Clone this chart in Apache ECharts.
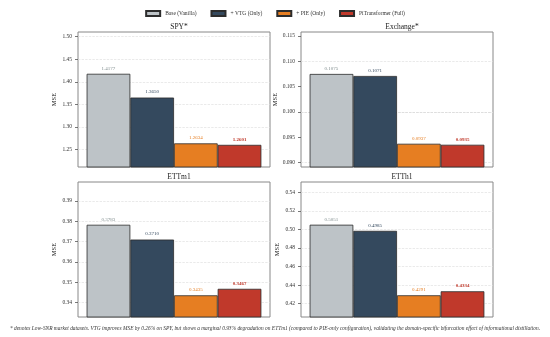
<!DOCTYPE html>
<html>
<head>
<meta charset="utf-8">
<script src="https://cdn.jsdelivr.net/npm/echarts@6/dist/echarts.min.js"></script>
<style>html,body{margin:0;padding:0;background:#fff}#c{width:550px;height:337px}</style>
</head>
<body>
<div id="c"></div>
<script>
// ---- data ----
var panels = ['SPY*', 'Exchange*', 'ETTm1', 'ETTh1'];
var seriesNames = ['Base (Vanilla)', '+ VTG (Only)', '+ PIE (Only)', 'PiTransformer (Full)'];
var baseVals = [1.4177, 0.1075, 0.3783, 0.5051];
var vtgVals  = [1.3650, 0.1071, 0.3710, 0.4985];
var pieVals  = [1.2634, 0.0937, 0.3435, 0.4291];
var fullVals = [1.2601, 0.0935, 0.3467, 0.4334];
var ticksSPY = [1.25, 1.30, 1.35, 1.40, 1.45, 1.50];
var ticksExchange = [0.090, 0.095, 0.100, 0.105, 0.110, 0.115];
var ticksETTm1 = [0.34, 0.35, 0.36, 0.37, 0.38, 0.39];
var ticksETTh1 = [0.42, 0.44, 0.46, 0.48, 0.50, 0.52, 0.54];
var yMin = [1.211, 0.0891, 0.3328, 0.4057];
var yMax = [1.5104, 0.1158, 0.3994, 0.5511];
var tickDecimals = [2, 3, 2, 2];
var footnote = '* denotes Low-SNR market datasets. VTG improves MSE by 0.26% on SPY, but shows a marginal 0.93% degradation on ETTm1 (compared to PIE-only configuration), validating the domain-specific bifurcation effect of informational distillation.';

// ---- styles ----
var allTicks = [ticksSPY, ticksExchange, ticksETTm1, ticksETTh1];
var allVals = [baseVals, vtgVals, pieVals, fullVals];
var colors = ['#bdc3c7', '#34495e', '#e67e22', '#c0392b'];
var labelColors = ['#7f8c8d', '#34495e', '#e67e22', '#c0392b'];
var FONT = '"Liberation Serif", "DejaVu Serif", serif';
var grids = [
  {left: 78, top: 32, width: 192, height: 135},
  {left: 301, top: 32, width: 192, height: 135},
  {left: 78, top: 182, width: 192, height: 135},
  {left: 301, top: 182, width: 192, height: 135}
];

var option = {
  backgroundColor: '#fff',
  animation: false,
  textStyle: {fontFamily: FONT},
  legend: {
    data: seriesNames,
    top: 5, left: 'center', icon: 'rect',
    itemWidth: 14, itemHeight: 5, itemGap: 14,
    textStyle: {fontFamily: FONT, fontSize: 5.5, color: '#333'}
  },
  title: [],
  grid: [],
  xAxis: [],
  yAxis: [],
  series: [],
  graphic: [{
    type: 'text', left: 'center', top: 326,
    style: {text: footnote, font: 'italic 5.4px "Liberation Serif"', fill: '#333'}
  }]
};

grids.forEach(function (g, i) {
  option.grid.push({left: g.left, top: g.top, width: g.width, height: g.height,
    show: true, borderColor: '#888', borderWidth: 1, backgroundColor: '#fff'});
  option.title.push({
    text: panels[i], left: g.left + g.width / 2, top: g.top - 14, textAlign: 'center',
    textStyle: {fontFamily: FONT, fontSize: 7.5, fontWeight: 'normal', color: '#222'}
  });
  option.xAxis.push({type: 'category', gridIndex: i, data: [panels[i]],
    axisLine: {show: false}, axisTick: {show: false}, axisLabel: {show: false}});
  option.yAxis.push({type: 'value', gridIndex: i, min: yMin[i], max: yMax[i],
    name: 'MSE', nameLocation: 'middle', nameGap: 20, nameRotate: 90,
    nameTextStyle: {fontFamily: FONT, fontSize: 6.5, color: '#222'},
    axisLine: {show: false},
    axisTick: {show: true, length: 3, customValues: allTicks[i], lineStyle: {color: '#555', width: 0.8}},
    axisLabel: {customValues: allTicks[i], margin: 6, fontFamily: FONT, fontSize: 5.5, color: '#333',
      formatter: (function (d) { return function (v) { return v.toFixed(d); }; })(tickDecimals[i])},
    splitLine: {show: false}
  });
  seriesNames.forEach(function (name, s) {
    var ser = {
      name: name, type: 'bar', xAxisIndex: i, yAxisIndex: i,
      data: [allVals[s][i]],
      barGap: '0%', barCategoryGap: '9%',
      itemStyle: {color: colors[s], borderColor: '#2c2c2c', borderWidth: 0.8},
      label: {show: true, position: 'top', distance: 3,
        fontFamily: FONT, fontSize: 5, color: labelColors[s],
        fontWeight: s === 3 ? 'bold' : 'normal',
        formatter: function (p) { return p.value.toFixed(4); }},
      z: 2
    };
    if (s === 0) {
      ser.markLine = {
        silent: true, symbol: 'none', z: 1,
        label: {show: false},
        lineStyle: {color: '#dcdcdc', type: 'dashed', width: 0.6},
        data: allTicks[i].map(function (v) { return {yAxis: v}; })
      };
    }
    option.series.push(ser);
  });
});

var chart = echarts.init(document.getElementById('c'), null, {renderer: 'canvas'});
chart.setOption(option);
</script>
</body>
</html>
